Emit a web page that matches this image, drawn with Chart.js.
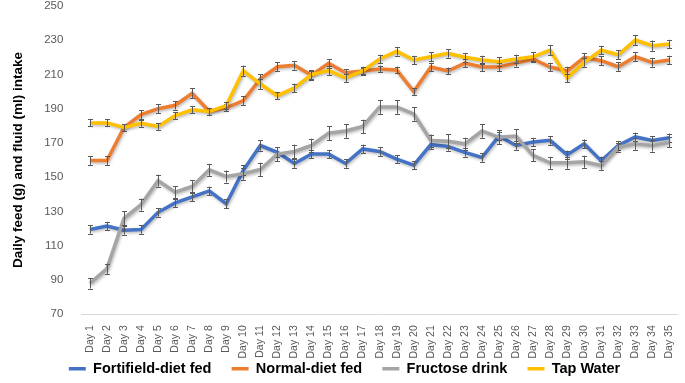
<!DOCTYPE html>
<html>
<head>
<meta charset="utf-8">
<script src="https://cdn.jsdelivr.net/npm/chart.js@4"></script>
<style>
  html, body { margin: 0; padding: 0; background: #fff; overflow: hidden; }
  #wrap { width: 685px; height: 397px; margin-top: -11px; }
</style>
</head>
<body>
<div id="wrap"><canvas id="intake"></canvas></div>
<script>
var days = [];
for (var d = 1; d <= 35; d++) days.push('Day ' + d);

var fortified = [119.5, 121.5, 119, 119.5, 129.5, 135, 138.5, 142, 134.5, 154, 168.5, 164.5, 158, 163.5, 163.5, 158, 166.5, 165, 160.5, 157, 169, 168, 164.5, 161.5, 174, 168.5, 170.5, 171.5, 163, 169.5, 159.5, 168.5, 173.5, 171.5, 173];
var normal = [159.7, 159.7, 179, 186.5, 190, 192, 199, 188.5, 190.5, 194.7, 207.5, 214.5, 215.3, 209.5, 216.5, 211, 212, 213.2, 212.6, 200, 214.3, 212, 216.6, 214.3, 214.3, 216.6, 219, 214.3, 212, 220, 218, 214.5, 220.3, 217, 218.4];
var fructose = [88, 96.6, 126, 134, 148, 141.3, 144.6, 154.3, 150.4, 152, 154.5, 163.5, 165, 168.5, 175.7, 177, 179.6, 191, 191, 187, 171.4, 171, 169.5, 177, 173.3, 174, 162.7, 158.4, 158.4, 159, 156.8, 167.5, 169.5, 168.5, 170.4];
var tapWater = [181.7, 181.7, 179, 181.5, 179.6, 186, 189.3, 188.3, 191.8, 212.2, 204.4, 197.6, 202.1, 209.9, 212.2, 208, 212, 219, 223.5, 218.4, 220.3, 222.3, 220, 218.4, 217.4, 219, 220.3, 224.2, 208, 217, 224.2, 221.5, 230.1, 226.8, 227.7];

// standard errors
var fortifiedErr = [2.5, 2.5, 2.5, 2.5, 2.5, 2.5, 2.5, 2.5, 2.5, 3, 3, 3, 2.5, 2.5, 2.5, 2.5, 2.5, 2.5, 2.5, 2.5, 2.5, 2.5, 2.5, 2.5, 2.5, 2.5, 2.5, 2.5, 2.5, 2.5, 2.5, 2.5, 2.5, 2.5, 2.5];
var normalErr = [2.5, 2.5, 2, 2.5, 2.5, 2.5, 3, 2, 2, 2.5, 2.5, 2.5, 2.5, 2.5, 2.5, 2, 2, 2, 2, 2, 2.5, 2, 2.5, 2.5, 2.5, 2, 2, 2.5, 2.5, 2.5, 2.5, 2.5, 2.5, 2.5, 2.5];
var fructoseErr = [3, 3, 4, 3.5, 3.5, 3.5, 3.5, 3.5, 3.5, 3.5, 4, 4, 4, 4, 4, 4, 4, 4, 4, 4, 3.5, 4, 3.5, 4, 4, 4, 3.5, 3.5, 3.5, 3.5, 2.5, 2.5, 3.5, 3.5, 3];
var tapWaterErr = [2, 2, 2, 2, 2, 2, 2, 2, 2, 3, 3, 2, 2.5, 2.5, 2.5, 2.5, 2.5, 2.5, 2.5, 2.5, 2.5, 2.5, 2.5, 2.5, 2.5, 2.5, 2.5, 3, 2.5, 2.5, 2.5, 2.5, 3, 3, 2.5];

var yTicks = [70, 90, 110, 130, 150, 170, 190, 210, 230, 250];

// soft shadow under the lines + error bars drawn through the scales
var errorBars = {
  id: 'errorBars',
  beforeDatasetDraw: function(chart, args) {
    var ctx = chart.ctx;
    ctx.save();
    ctx.shadowColor = 'rgba(0,0,0,0.28)';
    ctx.shadowBlur = 3;
    ctx.shadowOffsetX = 1;
    ctx.shadowOffsetY = 1.5;
  },
  afterDatasetDraw: function(chart, args) {
    var ctx = chart.ctx;
    ctx.restore();
    var ds = chart.data.datasets[args.index];
    var meta = args.meta;
    var y = chart.scales.y;
    ctx.save();
    ctx.strokeStyle = '#595959';
    ctx.lineWidth = 1;
    meta.data.forEach(function(pt, i) {
      var e = ds.err[i];
      var top = y.getPixelForValue(ds.data[i] + e);
      var bot = y.getPixelForValue(ds.data[i] - e);
      var x = Math.round(pt.x) + 0.5;
      ctx.beginPath();
      ctx.moveTo(x, top); ctx.lineTo(x, bot);
      ctx.moveTo(x - 2.5, Math.round(top) + 0.5); ctx.lineTo(x + 2.5, Math.round(top) + 0.5);
      ctx.moveTo(x - 2.5, Math.round(bot) + 0.5); ctx.lineTo(x + 2.5, Math.round(bot) + 0.5);
      ctx.stroke();
    });
    ctx.restore();
  }
};

var line = function(label, data, err, color, order) {
  return {
    label: label, data: data, err: err,
    borderColor: color, backgroundColor: color,
    borderWidth: 3.5, pointRadius: 0, fill: false, tension: 0,
    order: order
  };
};

new Chart(document.getElementById('intake'), {
  type: 'line',
  data: {
    labels: days,
    datasets: [
      line('Fortifield-diet fed', fortified, fortifiedErr, '#4472C4', 4),
      line('Normal-diet fed', normal, normalErr, '#ED7D31', 3),
      line('Fructose drink', fructose, fructoseErr, '#A5A5A5', 2),
      line('Tap Water', tapWater, tapWaterErr, '#FFC000', 1)
    ]
  },
  options: {
    responsive: true,
    maintainAspectRatio: false,
    animation: false,
    layout: { padding: { left: 6, right: 2, top: 0, bottom: 0 } },
    plugins: {
      tooltip: { enabled: false },
      legend: {
        position: 'bottom',
        labels: {
          usePointStyle: true,
          pointStyle: 'line',
          pointStyleWidth: 17,
          boxHeight: 14,
          padding: 0,
          color: '#000',
          font: { family: 'Liberation Sans', size: 14.5, weight: 'bold' },
          sort: function(a, b) { return a.datasetIndex - b.datasetIndex; },
          generateLabels: function(chart) {
            var items = Chart.defaults.plugins.legend.labels.generateLabels(chart);
            items.forEach(function(it) {
              if (it.datasetIndex < 3) it.text = it.text + '     ';
            });
            return items;
          }
        }
      }
    },
    scales: {
      x: {
        offset: true,
        grid: { display: false },
        border: { display: true, color: '#D9D9D9', width: 1 },
        ticks: {
          minRotation: 90, maxRotation: 90, autoSkip: false,
          color: '#595959', padding: 3,
          font: { family: 'Liberation Sans', size: 10.5 }
        }
      },
      y: {
        min: 70, max: 250,
        afterBuildTicks: function(axis) {
          axis.ticks = yTicks.map(function(v) { return { value: v }; });
        },
        grid: { display: false },
        border: { display: false },
        ticks: {
          color: '#595959', padding: 10,
          font: { family: 'Liberation Sans', size: 11.5 }
        },
        title: {
          display: true,
          text: 'Daily feed (g) and fluid (ml) intake',
          color: '#000',
          padding: { bottom: 8 },
          font: { family: 'Liberation Sans', size: 13.5, weight: 'bold' }
        }
      }
    }
  },
  plugins: [errorBars]
});
</script>
</body>
</html>
